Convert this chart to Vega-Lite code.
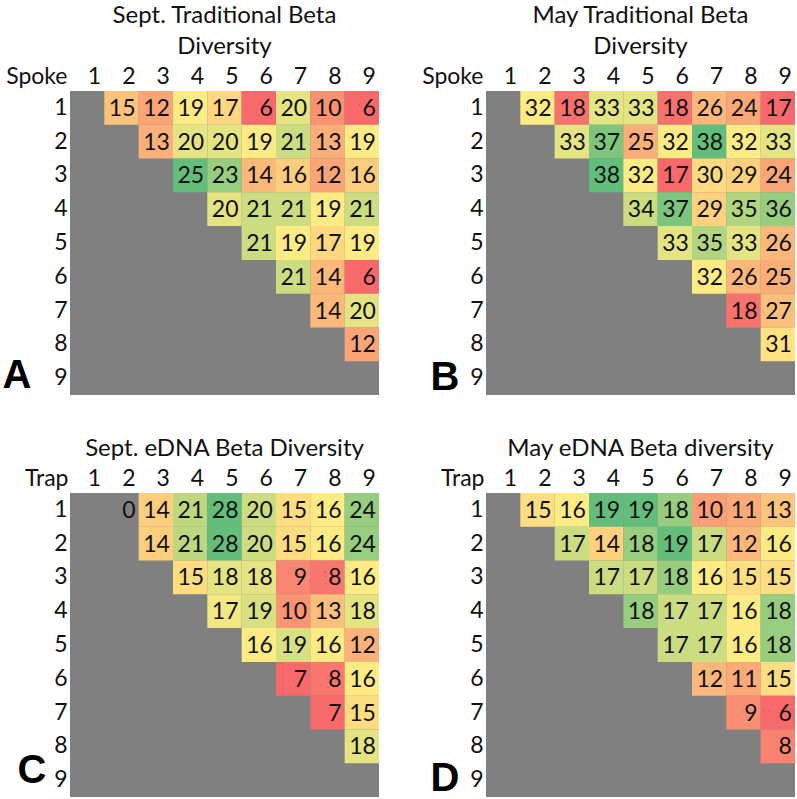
{
 "$schema": "https://vega.github.io/schema/vega-lite/v6.json",
 "padding": {"left": 2, "top": 4, "right": 0, "bottom": 0},
 "bounds": "flush",
 "columns": 2,
 "spacing": {"row": 98, "column": 107},
 "datasets": {
  "A": [
   {"r":1,"c":2,"v":15},{"r":1,"c":3,"v":12},{"r":1,"c":4,"v":19},{"r":1,"c":5,"v":17},{"r":1,"c":6,"v":6},{"r":1,"c":7,"v":20},{"r":1,"c":8,"v":10},{"r":1,"c":9,"v":6},
   {"r":2,"c":3,"v":13},{"r":2,"c":4,"v":20},{"r":2,"c":5,"v":20},{"r":2,"c":6,"v":19},{"r":2,"c":7,"v":21},{"r":2,"c":8,"v":13},{"r":2,"c":9,"v":19},
   {"r":3,"c":4,"v":25},{"r":3,"c":5,"v":23},{"r":3,"c":6,"v":14},{"r":3,"c":7,"v":16},{"r":3,"c":8,"v":12},{"r":3,"c":9,"v":16},
   {"r":4,"c":5,"v":20},{"r":4,"c":6,"v":21},{"r":4,"c":7,"v":21},{"r":4,"c":8,"v":19},{"r":4,"c":9,"v":21},
   {"r":5,"c":6,"v":21},{"r":5,"c":7,"v":19},{"r":5,"c":8,"v":17},{"r":5,"c":9,"v":19},
   {"r":6,"c":7,"v":21},{"r":6,"c":8,"v":14},{"r":6,"c":9,"v":6},
   {"r":7,"c":8,"v":14},{"r":7,"c":9,"v":20},
   {"r":8,"c":9,"v":12}
  ],
  "B": [
   {"r":1,"c":2,"v":32},{"r":1,"c":3,"v":18},{"r":1,"c":4,"v":33},{"r":1,"c":5,"v":33},{"r":1,"c":6,"v":18},{"r":1,"c":7,"v":26},{"r":1,"c":8,"v":24},{"r":1,"c":9,"v":17},
   {"r":2,"c":3,"v":33},{"r":2,"c":4,"v":37},{"r":2,"c":5,"v":25},{"r":2,"c":6,"v":32},{"r":2,"c":7,"v":38},{"r":2,"c":8,"v":32},{"r":2,"c":9,"v":33},
   {"r":3,"c":4,"v":38},{"r":3,"c":5,"v":32},{"r":3,"c":6,"v":17},{"r":3,"c":7,"v":30},{"r":3,"c":8,"v":29},{"r":3,"c":9,"v":24},
   {"r":4,"c":5,"v":34},{"r":4,"c":6,"v":37},{"r":4,"c":7,"v":29},{"r":4,"c":8,"v":35},{"r":4,"c":9,"v":36},
   {"r":5,"c":6,"v":33},{"r":5,"c":7,"v":35},{"r":5,"c":8,"v":33},{"r":5,"c":9,"v":26},
   {"r":6,"c":7,"v":32},{"r":6,"c":8,"v":26},{"r":6,"c":9,"v":25},
   {"r":7,"c":8,"v":18},{"r":7,"c":9,"v":27},
   {"r":8,"c":9,"v":31}
  ],
  "C": [
   {"r":1,"c":2,"v":0},{"r":1,"c":3,"v":14},{"r":1,"c":4,"v":21},{"r":1,"c":5,"v":28},{"r":1,"c":6,"v":20},{"r":1,"c":7,"v":15},{"r":1,"c":8,"v":16},{"r":1,"c":9,"v":24},
   {"r":2,"c":3,"v":14},{"r":2,"c":4,"v":21},{"r":2,"c":5,"v":28},{"r":2,"c":6,"v":20},{"r":2,"c":7,"v":15},{"r":2,"c":8,"v":16},{"r":2,"c":9,"v":24},
   {"r":3,"c":4,"v":15},{"r":3,"c":5,"v":18},{"r":3,"c":6,"v":18},{"r":3,"c":7,"v":9},{"r":3,"c":8,"v":8},{"r":3,"c":9,"v":16},
   {"r":4,"c":5,"v":17},{"r":4,"c":6,"v":19},{"r":4,"c":7,"v":10},{"r":4,"c":8,"v":13},{"r":4,"c":9,"v":18},
   {"r":5,"c":6,"v":16},{"r":5,"c":7,"v":19},{"r":5,"c":8,"v":16},{"r":5,"c":9,"v":12},
   {"r":6,"c":7,"v":7},{"r":6,"c":8,"v":8},{"r":6,"c":9,"v":16},
   {"r":7,"c":8,"v":7},{"r":7,"c":9,"v":15},
   {"r":8,"c":9,"v":18}
  ],
  "D": [
   {"r":1,"c":2,"v":15},{"r":1,"c":3,"v":16},{"r":1,"c":4,"v":19},{"r":1,"c":5,"v":19},{"r":1,"c":6,"v":18},{"r":1,"c":7,"v":10},{"r":1,"c":8,"v":11},{"r":1,"c":9,"v":13},
   {"r":2,"c":3,"v":17},{"r":2,"c":4,"v":14},{"r":2,"c":5,"v":18},{"r":2,"c":6,"v":19},{"r":2,"c":7,"v":17},{"r":2,"c":8,"v":12},{"r":2,"c":9,"v":16},
   {"r":3,"c":4,"v":17},{"r":3,"c":5,"v":17},{"r":3,"c":6,"v":18},{"r":3,"c":7,"v":16},{"r":3,"c":8,"v":15},{"r":3,"c":9,"v":15},
   {"r":4,"c":5,"v":18},{"r":4,"c":6,"v":17},{"r":4,"c":7,"v":17},{"r":4,"c":8,"v":16},{"r":4,"c":9,"v":18},
   {"r":5,"c":6,"v":17},{"r":5,"c":7,"v":17},{"r":5,"c":8,"v":16},{"r":5,"c":9,"v":18},
   {"r":6,"c":7,"v":12},{"r":6,"c":8,"v":11},{"r":6,"c":9,"v":15},
   {"r":7,"c":8,"v":9},{"r":7,"c":9,"v":6},
   {"r":8,"c":9,"v":8}
  ]
 },
 "concat": [
  {
   "title": {"text": ["Sept. Traditional Beta", "Diversity"]},
   "width": 309, "height": 304,
   "data": {"name": "A"},
   "encoding": {
    "x": {"field": "c", "type": "ordinal", "scale": {"domain": [1,2,3,4,5,6,7,8,9], "paddingInner": 0, "paddingOuter": 0}, "axis": {"title": "Spoke", "titleX": -3}},
    "y": {"field": "r", "type": "ordinal", "scale": {"domain": [1,2,3,4,5,6,7,8,9], "paddingInner": 0, "paddingOuter": 0}, "axis": {"title": "A", "titleX": -68, "titleY": 296}}
   },
   "layer": [
    {"mark": {"type": "rect"}, "transform": [{"filter": "datum.v > 0"}],
     "encoding": {"color": {"field": "v", "type": "quantitative", "legend": null, "scale": {"domain": [6, 19, 25], "range": ["#F8696B", "#FFEB84", "#63BE7B"], "interpolate": "rgb"}}}},
    {"mark": {"type": "text", "align": "right", "baseline": "middle", "dx": 14, "dy": 1, "fontSize": 23, "font": "Lato", "color": "#111111"},
     "encoding": {"text": {"field": "v", "type": "quantitative"}}}
   ]
  },
  {
   "title": {"text": ["May Traditional Beta", "Diversity"]},
   "width": 309, "height": 304,
   "data": {"name": "B"},
   "encoding": {
    "x": {"field": "c", "type": "ordinal", "scale": {"domain": [1,2,3,4,5,6,7,8,9], "paddingInner": 0, "paddingOuter": 0}, "axis": {"title": "Spoke", "titleX": -3}},
    "y": {"field": "r", "type": "ordinal", "scale": {"domain": [1,2,3,4,5,6,7,8,9], "paddingInner": 0, "paddingOuter": 0}, "axis": {"title": "B", "titleX": -56, "titleY": 298}}
   },
   "layer": [
    {"mark": {"type": "rect"}, "transform": [{"filter": "datum.v > 0"}],
     "encoding": {"color": {"field": "v", "type": "quantitative", "legend": null, "scale": {"domain": [17, 32, 38], "range": ["#F8696B", "#FFEB84", "#63BE7B"], "interpolate": "rgb"}}}},
    {"mark": {"type": "text", "align": "right", "baseline": "middle", "dx": 14, "dy": 1, "fontSize": 23, "font": "Lato", "color": "#111111"},
     "encoding": {"text": {"field": "v", "type": "quantitative"}}}
   ]
  },
  {
   "title": {"text": "Sept. eDNA Beta Diversity"},
   "width": 309, "height": 304,
   "data": {"name": "C"},
   "encoding": {
    "x": {"field": "c", "type": "ordinal", "scale": {"domain": [1,2,3,4,5,6,7,8,9], "paddingInner": 0, "paddingOuter": 0}, "axis": {"title": "Trap", "titleX": -2}},
    "y": {"field": "r", "type": "ordinal", "scale": {"domain": [1,2,3,4,5,6,7,8,9], "paddingInner": 0, "paddingOuter": 0}, "axis": {"title": "C", "titleX": -53, "titleY": 289}}
   },
   "layer": [
    {"mark": {"type": "rect"}, "transform": [{"filter": "datum.v > 0"}],
     "encoding": {"color": {"field": "v", "type": "quantitative", "legend": null, "scale": {"domain": [7, 16, 28], "range": ["#F8696B", "#FFEB84", "#63BE7B"], "interpolate": "rgb"}}}},
    {"mark": {"type": "text", "align": "right", "baseline": "middle", "dx": 14, "dy": 1, "fontSize": 23, "font": "Lato", "color": "#111111"},
     "encoding": {"text": {"field": "v", "type": "quantitative"}}}
   ]
  },
  {
   "title": {"text": "May eDNA Beta diversity"},
   "width": 309, "height": 304,
   "data": {"name": "D"},
   "encoding": {
    "x": {"field": "c", "type": "ordinal", "scale": {"domain": [1,2,3,4,5,6,7,8,9], "paddingInner": 0, "paddingOuter": 0}, "axis": {"title": "Trap", "titleX": -2}},
    "y": {"field": "r", "type": "ordinal", "scale": {"domain": [1,2,3,4,5,6,7,8,9], "paddingInner": 0, "paddingOuter": 0}, "axis": {"title": "D", "titleX": -56, "titleY": 297}}
   },
   "layer": [
    {"mark": {"type": "rect"}, "transform": [{"filter": "datum.v > 0"}],
     "encoding": {"color": {"field": "v", "type": "quantitative", "legend": null, "scale": {"domain": [6, 16, 19], "range": ["#F8696B", "#FFEB84", "#63BE7B"], "interpolate": "rgb"}}}},
    {"mark": {"type": "text", "align": "right", "baseline": "middle", "dx": 14, "dy": 1, "fontSize": 23, "font": "Lato", "color": "#111111"},
     "encoding": {"text": {"field": "v", "type": "quantitative"}}}
   ]
  }
 ],
 "resolve": {"scale": {"color": "independent", "x": "independent", "y": "independent"}},
 "config": {
  "background": "white",
  "view": {"fill": "#808080", "stroke": null},
  "title": {"font": "Lato", "fontSize": 24, "fontWeight": "normal", "color": "#111111", "anchor": "middle", "frame": "group", "lineHeight": 31, "offset": 6},
  "axis": {"labelFont": "Lato", "labelFontSize": 23, "labelColor": "#111111", "ticks": false, "tickSize": 0, "domain": false, "grid": false, "labelAngle": 0},
  "axisX": {"orient": "top", "labelAlign": "right", "labelOffset": 14, "labelBaseline": "alphabetic", "labelPadding": 8,
            "titleFont": "Lato", "titleFontSize": 23, "titleFontWeight": "normal", "titleColor": "#111111", "titleAngle": 0,
            "titleY": -8, "titleAlign": "right", "titleBaseline": "alphabetic"},
  "axisY": {"labelPadding": 3, "labelAlign": "right", "labelBaseline": "middle",
            "titleFont": "Liberation Sans", "titleFontSize": 40, "titleFontWeight": "bold", "titleColor": "#000000", "titleAngle": 0,
            "titleAlign": "left", "titleBaseline": "alphabetic"}
 }
}
